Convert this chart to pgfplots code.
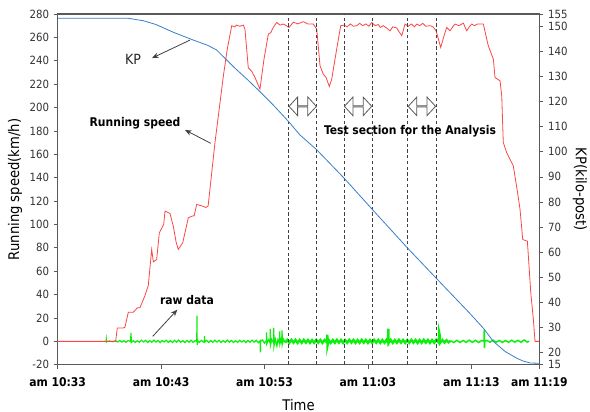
\documentclass[border=0pt]{standalone}
\usepackage{fontspec}
\setmainfont{DejaVu Sans Condensed}
\usepackage{pgfplots}
\usepackage{pgfplotstable}
\pgfplotsset{compat=1.18}
\usetikzlibrary{arrows.meta,shapes.arrows}
\definecolor{spd}{RGB}{250,70,70}
\definecolor{kpc}{RGB}{55,125,200}
\definecolor{raw}{RGB}{10,240,10}
\definecolor{frm}{RGB}{90,90,90}

\pgfplotstableread{
t v
0 0
5.61 0
5.76 11.5
6.34 11.5
6.5 12
6.83 24.9
7.31 24.9
7.70 28.6
7.96 28.9
8.44 39.2
8.76 47.7
9.09 78.6
9.25 68
9.57 70
9.83 92.9
10.09 97.2
10.25 100
10.38 111.4
10.86 109.4
11.18 98.5
11.45 85
11.66 78.6
12.09 84.3
12.63 105.7
12.96 107
13.2 107.5
13.44 117.1
13.9 116
14.34 114.5
14.55 116
15.21 170
16.02 227
16.40 250
16.83 270
17.1 269
17.31 270.5
17.6 269.5
17.95 270.5
18.11 267
18.43 234
18.76 231
19.08 225.7
19.56 215.7
19.95 241.4
20.37 262.8
20.6 264
20.85 268.5
21.18 272.8
21.5 270.5
21.82 271.4
22.1 270
22.37 268.5
22.79 273
23.2 271.5
23.75 273.4
24.2 271.5
24.72 271.4
25.05 267
25.37 235.6
25.69 228.5
25.95 225.7
26.27 218
26.5 224.3
26.98 250
27.37 270
27.7 270.5
28.0 269
28.3 271.5
28.6 269.5
28.92 270
29.2 272
29.5 270
29.8 271.5
30.1 269.5
30.37 272.8
30.7 270
31.0 271
31.2 268.5
31.49 270
31.8 268
32.14 265.6
32.4 269
32.79 268
33.0 265
33.27 261.4
33.59 271.4
33.9 269.5
34.2 271.5
34.5 269
34.72 271.4
35.0 270
35.3 272
35.6 269.5
36.0 270
36.3 269
36.59 265.6
37.04 251.4
37.36 261.4
37.62 268.5
37.94 265.6
38.2 269
38.42 271.4
38.8 270
39.23 272.2
39.55 265.6
39.8 269
40.04 271.4
40.3 270
40.6 271.5
41.0 271.4
41.16 271.4
41.64 252.8
42.13 241.4
42.29 225.7
42.78 222.8
42.94 210
43.09 170
43.42 161.4
44.06 150
44.45 128.5
44.71 112.9
44.97 87.1
45.42 85.7
45.75 41.5
46.0 18.6
46.16 0
46.58 0
}\speed

\pgfplotstableread{
t k
0 153.3
6.8 153.3
8.28 152.3
9.5 150.8
11.18 147.7
13.11 144.6
14.5 142.5
15.38 140.6
16.98 134
18.3 129
19.56 124
21.0 118
22.34 112
23.43 106.7
25.05 100.8
27.69 89.5
30.40 77.1
33.85 61.5
36.59 49.6
39.97 35
41.2 29.4
42.13 24.3
43.3 20.2
44.4 17.6
45.0 16.5
45.68 15.7
46.58 15.6
}\kp

\pgfplotstableread{
t v
4.5 0
4.68 0
4.7 1.5
4.72 -0.5
4.8 0
5.0 0.3
5.3 -0.3
5.6 0.5
5.8 -0.5
6.0 0.8
6.2 -0.6
6.4 0.5
6.6 -0.8
6.8 0.6
7.05 0
7.09 7.2
7.12 -1
7.3 0.6
7.5 -0.9
7.7 0.5
7.9 -0.7
8.1 1.0
8.3 -0.5
8.5 0.9
8.7 -1.0
8.9 0.6
9.1 -0.8
9.3 1.1
9.5 -0.6
9.7 0.8
9.9 -1.1
10.1 0.7
10.3 -0.5
10.5 1.0
10.7 -0.9
10.9 0.6
11.1 -1.0
11.3 0.9
11.5 -0.6
11.7 1.1
11.9 -0.8
12.1 0.6
12.3 -1.0
12.5 0.8
12.7 -0.7
12.9 1.0
13.1 -0.9
13.3 0.7
13.45 0
13.47 22
13.49 -3
13.55 0.5
13.7 -0.8
13.9 0.9
14.1 -0.6
14.18 0
14.2 4.5
14.22 -0.5
14.4 0.8
14.6 -1.0
14.8 0.7
15.0 -0.8
15.2 1.0
15.4 -0.6
15.6 0.9
15.8 -1.0
16.0 0.6
16.2 -0.8
16.4 1.1
16.6 -0.7
16.8 0.8
17.0 -1.0
17.2 0.6
17.4 -0.9
17.6 1.0
17.8 -0.6
18.0 0.8
18.2 -1.1
18.4 0.7
18.6 -0.8
18.8 1.0
19.0 -0.7
19.2 0.9
19.4 -1.2
19.58 0.5
19.6 -9.4
19.62 0
19.8 1.2
20.0 -1.5
20.18 0.8
20.2 7.7
20.22 -2
20.4 1.5
20.54 -1.5
20.56 10.6
20.58 -3
20.7 1.6
20.88 -1.4
20.9 11.5
20.92 -4
21.05 1.8
21.2 -4
21.3 1.5
21.45 -1.6
21.47 8.6
21.49 -2
21.6 1.8
21.68 -1.5
21.7 9.4
21.72 -2.5
21.85 1.7
22.0 -1.0
}\rawA

\pgfplotstableread{
t v
22.0 -1.0
22.2 1.2
22.4 -1.2
22.6 1.3
22.8 -1.1
23.0 1.2
23.2 -1.3
23.4 1.1
23.6 -1.2
23.8 1.3
24.0 -1.1
24.2 1.2
24.4 -1.3
24.6 1.1
24.8 -1.2
25.0 1.3
25.2 -1.1
25.4 1.2
25.6 -1.3
25.8 1.1
26.05 -1
26.07 5.7
26.09 -3.5
26.2 1.2
26.4 -1.3
26.6 1.1
26.8 -1.2
27.0 1.3
27.2 -1.1
27.4 1.2
27.6 -1.3
27.8 1.1
28.0 -1.2
28.2 1.3
28.4 -1.1
28.6 1.2
28.8 -1.3
29.0 1.1
29.2 -1.2
29.4 1.3
29.6 -1.1
29.8 1.2
30.0 -1.3
30.2 1.1
30.4 -1.2
30.6 1.3
30.8 -1.1
31.0 1.2
31.2 -1.3
31.4 1.1
31.6 -1.2
31.8 1.3
31.95 -1
31.97 10.9
31.99 -1.5
32.2 1.2
32.4 -1.3
32.6 1.1
32.8 -1.2
33.0 1.3
33.2 -1.1
33.4 1.2
33.6 -1.3
33.8 1.1
34.0 -1.2
34.2 1.3
34.4 -1.1
34.6 1.2
34.8 -1.3
35.0 1.1
35.2 -1.2
35.4 1.3
35.6 -1.1
35.8 1.2
36.0 -1.3
36.2 1.1
36.4 -1.2
36.6 1.3
36.86 -1
36.88 8
36.93 6
36.96 -1.5
37.2 1.1
37.4 -1.0
37.6 0.9
37.8 -0.8
38.0 0.5
}\rawB

\pgfplotstableread{
t v
38.0 0.5
38.3 -1.0
38.6 0.9
38.9 -1.0
39.2 0.8
39.5 -0.9
39.8 1.0
40.1 -0.8
40.4 0.9
40.7 -1.0
41.0 0.8
41.23 0
41.25 10
41.27 -5.7
41.3 0
41.5 0.9
41.8 -0.8
42.1 1.0
42.4 -0.7
42.7 0.8
43.0 -0.9
43.3 0.7
43.6 -0.8
43.9 1.0
44.2 -0.7
44.5 0.9
44.8 -0.8
45.1 1.2
45.4 -0.6
45.6 0
}\rawC

\begin{document}
\begin{tikzpicture}
\begin{axis}[
  name=ax,
  scale only axis,
  width=361.5pt, height=263.25pt,
  xmin=0, xmax=46.58,
  ymin=-20, ymax=280,
  xtick={0,10,20,30,40,46.58},
  xticklabels={am 10:33,am 10:43,am 10:53,am 11:03,am 11:13,am 11:19},
  ytick={-20,0,20,...,280},
  xtick pos=bottom, ytick pos=left,
  tick align=outside,
  major tick length=3pt,
  axis line style={frm, line width=0.8pt},
  every tick/.style={frm, line width=0.5pt},
  /pgf/number format/assume math mode=true,
  xticklabel style={font=\fontsize{9}{10}\selectfont\bfseries, text=black, yshift=-3pt},
  yticklabel style={font=\fontsize{8.5}{10}\selectfont, text=black!80},
  clip=false,
]
\addplot[raw, line width=0.9pt] table[x=t,y=v] {\rawA};
\addplot[raw, line width=1.8pt] table[x=t,y=v] {\rawB};
\addplot[raw, line width=1.1pt] table[x=t,y=v] {\rawC};
\addplot[spd, line width=0.6pt] table[x=t,y=v] {\speed};
\foreach \xx in {22.34,25.05,27.69,30.40,33.85,36.59} {
  \edef\tmp{\noexpand\draw[black!75, line width=0.7pt, dash pattern=on 2.5pt off 1.8pt] (axis cs:\xx,-20) -- (axis cs:\xx,280);}
  \tmp
}
\foreach \xx in {23.695,29.045,35.22} {
  \edef\tmp{\noexpand\node[double arrow, draw=black!65, fill=white, line width=0.6pt, inner sep=0pt, minimum height=20.5pt, minimum width=14pt, double arrow head extend=4.2pt, double arrow tip angle=95] at (axis cs:\xx,201) {};}
  \tmp
}
\node[font=\fontsize{9}{11}\selectfont\bfseries] at (axis cs:34.07,180) {Test section for the Analysis};
\node[font=\fontsize{10.5}{12}\selectfont, text=black!85] at (axis cs:7.28,241.4) {KP};
\draw[black!75, line width=0.6pt, -{Stealth[length=5pt,width=4pt]}] (axis cs:12.8,257.7) -- (axis cs:9.12,242.3);
\node[font=\fontsize{9}{11}\selectfont\bfseries] at (axis cs:7.48,186.4) {Running speed};
\draw[black!75, line width=0.6pt, -{Stealth[length=5pt,width=4pt]}] (axis cs:14.8,169.4) -- (axis cs:12.31,180.8);
\node[font=\fontsize{9}{11}\selectfont\bfseries] at (axis cs:12.5,35.7) {raw data};
\draw[black!75, line width=0.6pt, -{Stealth[length=5pt,width=4pt]}] (axis cs:9.19,4.3) -- (axis cs:11.57,27.1);
\end{axis}
\begin{axis}[
  scale only axis,
  width=361.5pt, height=263.25pt,
  xmin=0, xmax=46.58,
  ymin=15, ymax=155,
  axis x line=none,
  axis y line*=right,
  ytick={15,20,30,...,150,155},
  tick align=outside,
  major tick length=3pt,
  axis line style={frm, line width=0.8pt},
  every tick/.style={frm, line width=0.5pt},
  /pgf/number format/assume math mode=true,
  yticklabel style={font=\fontsize{8.5}{10}\selectfont, text=black!80},
]
\addplot[kpc, line width=0.6pt] table[x=t,y=k] {\kp};
\end{axis}
\node[font=\fontsize{11}{13}\selectfont] at ([yshift=-30pt]ax.south) {Time};
\node[rotate=90, font=\fontsize{11}{13}\selectfont] at ([xshift=-32pt]ax.west) {Running speed(km/h)};
\node[rotate=-90, font=\fontsize{11}{13}\selectfont] at ([xshift=30.5pt]ax.east) {KP(kilo-post)};
\pgfresetboundingbox
\path ([xshift=-43.3pt,yshift=-35.25pt]ax.south west) rectangle ([xshift=38pt,yshift=10.5pt]ax.north east);
\end{tikzpicture}
\end{document}
